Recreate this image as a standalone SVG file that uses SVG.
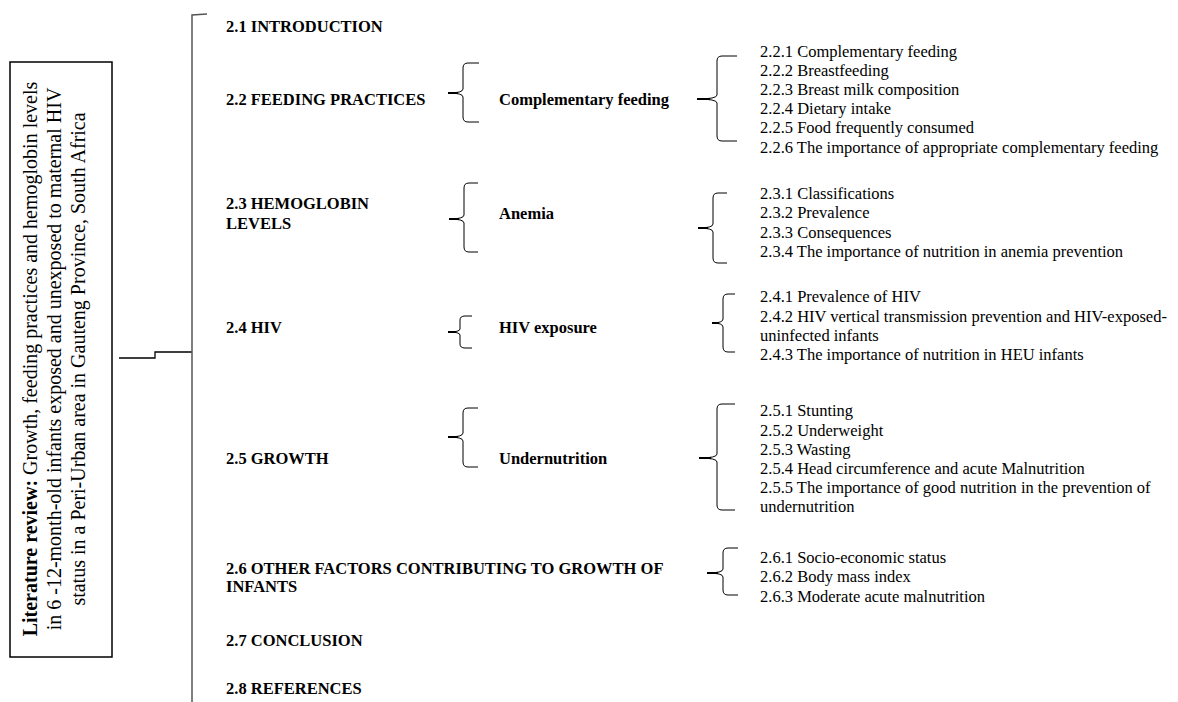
<svg xmlns="http://www.w3.org/2000/svg" width="1178" height="702" viewBox="0 0 1178 702">
<style>
.h{font-family:"Liberation Serif","Times New Roman",serif;font-size:16.5px;font-weight:bold;fill:#000}
.t{font-family:"Liberation Serif","Times New Roman",serif;font-size:16.5px;fill:#000}
.bt{font-family:"Liberation Serif","Times New Roman",serif;font-size:20px;fill:#000}
.br{fill:none;stroke:#000;stroke-width:1}
.tip{stroke:#000;stroke-width:2}
.ln{fill:none;stroke:#000;stroke-width:1.3}
.spine{fill:none;stroke:#555;stroke-width:1.5}
</style>
<rect width="1178" height="702" fill="#fff"/>
<g id="root">
<rect x="10" y="62" width="102" height="595" fill="#fff" stroke="#000" stroke-width="1.5"/>
<text class="bt" text-anchor="middle" transform="translate(37,359) rotate(-90)"><tspan font-weight="bold">Literature review:</tspan> Growth, feeding practices and hemoglobin levels</text>
<text class="bt" text-anchor="middle" transform="translate(61,359) rotate(-90)">in 6 -12-month-old infants exposed and unexposed to maternal HIV</text>
<text class="bt" text-anchor="middle" transform="translate(85,359) rotate(-90)">status in a Peri-Urban area in Gauteng Province, South Africa</text>
</g>
<g id="connectors">
<path class="ln" d="M119,358 L155,358 L155,352 L192,352"/>
<path class="spine" d="M207,14 L192,15 L192,702"/>
<path class="br" d="M479,63 L468,63 Q463,63 463,68 L463,89 Q463,93 448,93 Q463,93 463,97 L463,117 Q463,122 468,122 L479,122"/>
<line class="tip" x1="448" y1="93" x2="458" y2="93"/>
<path class="br" d="M737,56 L722,56 Q717,56 717,61 L717,95 Q717,99 697,99 Q717,99 717,103 L717,136 Q717,141 722,141 L737,141"/>
<line class="tip" x1="697" y1="99" x2="710" y2="99"/>
<path class="br" d="M478,183 L469,183 Q464,183 464,188 L464,215 Q464,219 449,219 Q464,219 464,223 L464,247 Q464,252 469,252 L478,252"/>
<line class="tip" x1="449" y1="219" x2="459" y2="219"/>
<path class="br" d="M727,193 L718,193 Q713,193 713,198 L713,224 Q713,228 698,228 Q713,228 713,232 L713,258 Q713,263 718,263 L727,263"/>
<line class="tip" x1="698" y1="228" x2="708" y2="228"/>
<path class="br" d="M472,316 L465,316 Q460,316 460,320 L460,329 Q460,332 448,332 Q460,332 460,335 L460,344 Q460,348 465,348 L472,348"/>
<line class="tip" x1="448" y1="332" x2="456" y2="332"/>
<path class="br" d="M735,294 L728,294 Q723,294 723,299 L723,319 Q723,323 712,323 Q723,323 723,327 L723,347 Q723,352 728,352 L735,352"/>
<line class="tip" x1="712" y1="323" x2="719" y2="323"/>
<path class="br" d="M478,408 L468,408 Q463,408 463,413 L463,433 Q463,437 448,437 Q463,437 463,441 L463,462 Q463,467 468,467 L478,467"/>
<line class="tip" x1="448" y1="437" x2="458" y2="437"/>
<path class="br" d="M735,404 L722,404 Q717,404 717,409 L717,454 Q717,458 699,458 Q717,458 717,462 L717,505 Q717,510 722,510 L735,510"/>
<line class="tip" x1="699" y1="458" x2="711" y2="458"/>
<path class="br" d="M738,548 L728,548 Q723,548 723,553 L723,569 Q723,573 707,573 Q723,573 723,577 L723,590 Q723,595 728,595 L738,595"/>
<line class="tip" x1="707" y1="573" x2="718" y2="573"/>
</g>
<g id="s21"><text class="h" x="226" y="32">2.1 INTRODUCTION</text></g>
<g id="s22"><text class="h" x="226" y="104.5">2.2 FEEDING PRACTICES</text></g>
<g id="s22a"><text class="h" x="499" y="104.5">Complementary feeding</text></g>
<g id="s22b">
<text class="t" x="760" y="56.5">2.2.1 Complementary feeding</text>
<text class="t" x="760" y="75.7">2.2.2 Breastfeeding</text>
<text class="t" x="760" y="94.9">2.2.3 Breast milk composition</text>
<text class="t" x="760" y="114.1">2.2.4 Dietary intake</text>
<text class="t" x="760" y="133.3">2.2.5 Food frequently consumed</text>
<text class="t" x="760" y="152.5">2.2.6 The importance of appropriate complementary feeding</text>
</g>
<g id="s23"><text class="h" x="226" y="208.5">2.3 HEMOGLOBIN</text><text class="h" x="226" y="228.5">LEVELS</text></g>
<g id="s23a"><text class="h" x="499" y="218.5">Anemia</text></g>
<g id="s23b">
<text class="t" x="760" y="198.5">2.3.1 Classifications</text>
<text class="t" x="760" y="218">2.3.2 Prevalence</text>
<text class="t" x="760" y="237.5">2.3.3 Consequences</text>
<text class="t" x="760" y="257">2.3.4 The importance of nutrition in anemia prevention</text>
</g>
<g id="s24"><text class="h" x="226" y="332.5">2.4 HIV</text></g>
<g id="s24a"><text class="h" x="499" y="332.5">HIV exposure</text></g>
<g id="s24b">
<text class="t" x="760" y="302">2.4.1 Prevalence of HIV</text>
<text class="t" x="760" y="321.5">2.4.2 HIV vertical transmission prevention and HIV-exposed-</text>
<text class="t" x="760" y="341">uninfected infants</text>
<text class="t" x="760" y="360">2.4.3 The importance of nutrition in HEU infants</text>
</g>
<g id="s25"><text class="h" x="226" y="464">2.5 GROWTH</text></g>
<g id="s25a"><text class="h" x="499" y="464">Undernutrition</text></g>
<g id="s25b">
<text class="t" x="760" y="416">2.5.1 Stunting</text>
<text class="t" x="760" y="435.5">2.5.2 Underweight</text>
<text class="t" x="760" y="455">2.5.3 Wasting</text>
<text class="t" x="760" y="474">2.5.4 Head circumference and acute Malnutrition</text>
<text class="t" x="760" y="493">2.5.5 The importance of good nutrition in the prevention of</text>
<text class="t" x="760" y="512">undernutrition</text>
</g>
<g id="s26"><text class="h" x="226" y="574">2.6 OTHER FACTORS CONTRIBUTING TO GROWTH OF</text><text class="h" x="226" y="592">INFANTS</text></g>
<g id="s26b">
<text class="t" x="760" y="563">2.6.1 Socio-economic status</text>
<text class="t" x="760" y="582">2.6.2 Body mass index</text>
<text class="t" x="760" y="601.5">2.6.3 Moderate acute malnutrition</text>
</g>
<g id="s27"><text class="h" x="226" y="646">2.7 CONCLUSION</text></g>
<g id="s28"><text class="h" x="226" y="694">2.8 REFERENCES</text></g>
</svg>
